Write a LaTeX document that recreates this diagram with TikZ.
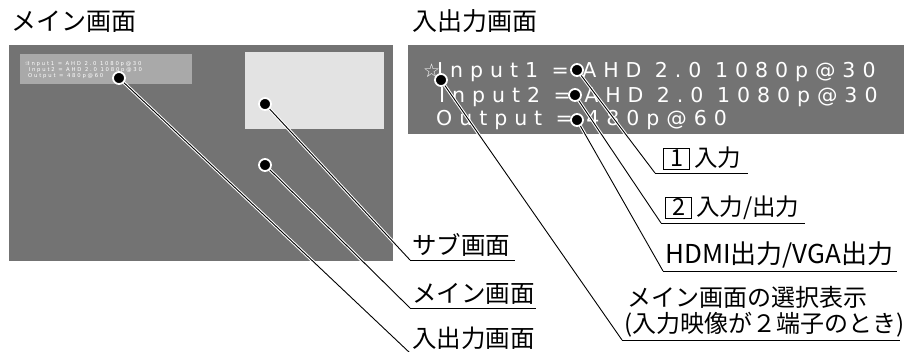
\documentclass[tikz,border=0pt]{standalone}
\usepackage{fontspec}
\setmainfont{Noto Sans CJK JP}
\newfontfamily\osdfont[LetterSpace=34]{DejaVu Sans}
\newfontfamily\symfont{DejaVu Sans}
\definecolor{panelgray}{HTML}{737373}
\definecolor{minigray}{HTML}{A9A9A9}
\definecolor{subgray}{HTML}{E3E3E3}
\newcommand\numbox[1]{{\setlength\fboxsep{0pt}\setlength\fboxrule{0.9pt}\fbox{\makebox[25pt]{\rule[-2pt]{0pt}{20pt}#1}}}}
\pgfdeclarelayer{back}
\pgfdeclarelayer{mid}
\pgfsetlayers{back,mid,main}
\begin{document}
\begin{tikzpicture}[x=1pt,y=-1pt,
  title/.style={anchor=base west, inner sep=0pt, font=\fontsize{25}{28}\selectfont},
  lbl/.style={anchor=south west, inner xsep=2pt, inner ysep=3pt, align=left, font=\fontsize{24.5}{26}\selectfont},
  osd/.style={anchor=base west, inner sep=0pt, text=white, font=\osdfont\fontsize{20.5}{24}\selectfont},
  mini/.style={anchor=base west, inner sep=0pt, text=white, font=\osdfont\fontsize{5.3}{6}\selectfont},
  dotmark/.style={circle, fill=black, draw=white, line width=1.8pt, inner sep=0pt, minimum size=12pt},
  lead/.style={draw=black, line width=0.9pt, preaction={draw=white, line width=3pt}},
  ulead/.style={draw=black, line width=0.9pt}
]
\useasboundingbox (0,0) rectangle (904,351);
\begin{pgfonlayer}{back}
  \fill[panelgray] (9,45) rectangle (393,261);
  \fill[minigray] (20,54) rectangle (192,84);
  \fill[subgray] (245,52) rectangle (384,129);
  \fill[panelgray] (408,45) rectangle (904,134);
  % miniature of the OSD text
  \node[mini, font=\symfont\fontsize{5.6}{6}\selectfont] (mstar) at (24.5,65) {☆};
  \node[mini] (m1) at (28,65) {Input1 = AHD 2.0 1080p@30};
  \node[mini] (m2) at (28.5,71) {Input2 = AHD 2.0 1080p@30};
  \node[mini] (m3) at (28,77) {Output = 480p@60};
  % OSD text of the input/output screen
  \node[osd, font=\symfont\fontsize{19}{20}\selectfont] (ostar) at (423,77) {☆};
  \node[osd] (o1) at (437,77) {Input1 = AHD 2.0 1080p@30};
  \node[osd] (o2) at (439,102) {Input2 = AHD 2.0 1080p@30};
  \node[osd] (o3) at (436,125) {Output = 480p@60};
\end{pgfonlayer}
% titles
\node[title] (t1) at (11,30) {メイン画面};
\node[title] (t2) at (412,30) {入出力画面};
% dots
\node[dotmark] (dio) at (119,78) {};
\node[dotmark] (dsub) at (265,104) {};
\node[dotmark] (dmain) at (265,165) {};
\node[dotmark] (dsel) at (441,80) {};
\node[dotmark] (din1) at (577,70) {};
\node[dotmark] (din2) at (575,95) {};
\node[dotmark] (dout) at (577,120) {};
% labels
\node[lbl, text width=101pt] (lsub) at (410,260) {サブ画面};
\node[lbl, text width=122pt] (lmain) at (410,308) {メイン画面};
\node[lbl, text width=124pt] (lio) at (410,353) {入出力画面};
\node[lbl, text width=89pt, font=\fontsize{23.5}{26}\selectfont] (lin1) at (655,173) {\mbox{\hspace*{6pt}\numbox{1}\hspace{4pt}入力}};
\node[lbl, text width=140pt, font=\fontsize{23.5}{26}\selectfont] (lin2) at (661,223) {\mbox{\hspace*{2pt}\numbox{2}\hspace{4pt}入力/出力}};
\node[lbl, text width=230pt, font=\fontsize{26}{28}\selectfont] (lout) at (663,271) {HDMI出力/VGA出力};
\node[lbl, text width=274pt, font=\fontsize{24}{26}\selectfont] (lsel) at (622,340) {\hspace*{3pt}メイン画面の選択表示\\(入力映像が２端子のとき)};
% leaders
\begin{pgfonlayer}{mid}
  \path[lead] (dsub.center) -- (lsub.south west);
  \path[lead] (dmain.center) -- (lmain.south west);
  \path[lead] (dio.center) -- (lio.south west);
  \path[lead] (din1.center) -- (lin1.south west);
  \path[lead] (din2.center) -- (lin2.south west);
  \path[lead] (dout.center) -- (lout.south west);
  \path[lead] (dsel.center) -- (lsel.south west);
  \draw[ulead] (lsub.south west) -- (lsub.south east);
  \draw[ulead] (lmain.south west) -- (lmain.south east);
  \draw[ulead] (lio.south west) -- (lio.south east);
  \draw[ulead] (lin1.south west) -- (lin1.south east);
  \draw[ulead] (lin2.south west) -- (lin2.south east);
  \draw[ulead] (lout.south west) -- (lout.south east);
  \draw[ulead] (lsel.south west) -- (lsel.south east);
\end{pgfonlayer}
\end{tikzpicture}
\end{document}
